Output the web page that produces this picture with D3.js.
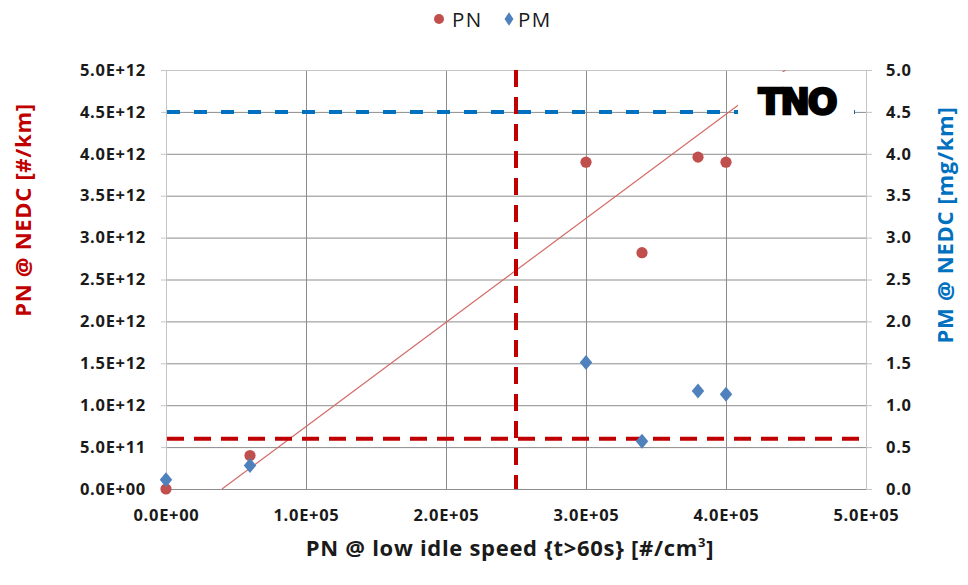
<!DOCTYPE html>
<html><head><meta charset="utf-8">
<script src="https://cdn.jsdelivr.net/npm/d3@7"></script>
<style>body{margin:0;background:#fff}svg{display:block}</style>
</head><body>
<svg id="c" width="968" height="585"></svg>
<script>
// ---- data ----
const idlePN = [0, 60000, 300000, 340000, 380000, 400000];          // #/cm3
const nedcPN = [0, 4.0e11, 3.90e12, 2.82e12, 3.96e12, 3.90e12];     // #/km
const nedcPM = [0.11, 0.28, 1.51, 0.57, 1.17, 1.13];                // mg/km
const trendX = [40000, 442500];
const trendY = [0, 5e12];
const limitPN = 6.0e11;
const limitIdle = 2.5e5;
const limitPM = 4.5;
const xTicks = [0, 1e5, 2e5, 3e5, 4e5, 5e5];
const yLTicks = [0, 0.5e12, 1e12, 1.5e12, 2e12, 2.5e12, 3e12, 3.5e12, 4e12, 4.5e12, 5e12];
const yRTicks = [0, 0.5, 1, 1.5, 2, 2.5, 3, 3.5, 4, 4.5, 5];
const legendItems = ["PN", "PM"];

const svg = d3.select("#c");
const L = 166, R = 866, T = 70, B = 489;
const x = d3.scaleLinear().domain([0, 5e5]).range([L, R]);
const yL = d3.scaleLinear().domain([0, 5e12]).range([B, T]);
const yR = d3.scaleLinear().domain([0, 5]).range([B, T]);
const fmtE = (v) => { const s = v.toExponential(1).toUpperCase(); const [m, e] = s.split("E"); const sign = e[0] === "-" ? "-" : "+"; const n = e.replace(/[+-]/, "").padStart(2, "0"); return m + "E" + sign + n; };
const font = "'Open Sans', sans-serif";
const red = "#c0504d", blue = "#4f81bd";

// gridlines
const g = svg.append("g");
g.selectAll(".hg").data(yLTicks.slice(1, -1)).join("line")
  .attr("x1", L).attr("x2", R).attr("y1", d => yL(d) + 0.5).attr("y2", d => yL(d) + 0.5)
  .attr("stroke", "#8c8c8c").attr("stroke-width", 1);
g.selectAll(".vg").data(xTicks.slice(1, -1)).join("line")
  .attr("y1", T).attr("y2", B).attr("x1", d => x(d) + 0.5).attr("x2", d => x(d) + 0.5)
  .attr("stroke", "#8c8c8c").attr("stroke-width", 1);
g.append("rect").attr("x", L + 0.5).attr("y", T + 0.5).attr("width", R - L).attr("height", B - T)
  .attr("fill", "none").attr("stroke", "#c4c4c4");
g.append("line").attr("x1", L).attr("x2", R).attr("y1", B + 0.5).attr("y2", B + 0.5).attr("stroke", "#8c8c8c");

// axes
const tickStyle = sel => {
  sel.select(".domain").remove();
  sel.selectAll(".tick line").attr("stroke", "#c4c4c4");
  sel.selectAll(".tick text").attr("font-family", font).attr("font-weight", "bold")
    .attr("font-size", 16.5).attr("fill", "#1a1a1a").style("letter-spacing", "0.7px");
};
svg.append("g").attr("transform", `translate(${L},0)`)
  .call(d3.axisLeft(yL).tickValues(yLTicks).tickFormat(d => fmtE(d)).tickSize(5).tickPadding(15))
  .call(tickStyle);
svg.append("g").attr("transform", `translate(${R},0)`)
  .call(d3.axisRight(yR).tickValues(yRTicks).tickFormat(d3.format(".1f")).tickSize(6).tickPadding(14))
  .call(tickStyle);
svg.append("g").attr("transform", `translate(0,${B})`)
  .call(d3.axisBottom(x).tickValues(xTicks).tickFormat(d => fmtE(d)).tickSize(0).tickPadding(20))
  .call(tickStyle);

// trend line
svg.append("clipPath").attr("id", "pc").append("rect").attr("x", L).attr("y", T).attr("width", R - L).attr("height", B - T);
svg.append("path").attr("clip-path", "url(#pc)")
  .datum(trendX.map((v, i) => [v, trendY[i]]))
  .attr("d", d3.line().x(d => x(d[0])).y(d => yL(d[1])))
  .attr("stroke", "#d46a66").attr("stroke-width", 1.2).attr("fill", "none");

// limit lines
svg.append("line").attr("x1", L + 1).attr("x2", R - 3).attr("y1", yL(limitPN)).attr("y2", yL(limitPN))
  .attr("stroke", "#c00000").attr("stroke-width", 4).attr("stroke-dasharray", "17,10");
svg.append("line").attr("x1", x(limitIdle)).attr("x2", x(limitIdle)).attr("y1", T).attr("y2", B)
  .attr("stroke", "#c00000").attr("stroke-width", 4).attr("stroke-dasharray", "17,10");
svg.append("line").attr("x1", L + 1).attr("x2", R - 5).attr("y1", yR(limitPM)).attr("y2", yR(limitPM))
  .attr("stroke", "#0070c0").attr("stroke-width", 4).attr("stroke-dasharray", "13,14");

// logo
svg.append("rect").attr("x", 738).attr("y", 72).attr("width", 116).attr("height", 58).attr("fill", "#fff");
svg.append("text").attr("x", 797).attr("y", 114).attr("text-anchor", "middle")
  .attr("font-family", "'DejaVu Sans', sans-serif").attr("font-weight", "bold").attr("font-size", 35)
  .attr("stroke", "#000").attr("stroke-width", 2.5).style("letter-spacing", "-2px")
  .attr("fill", "#000").text("TNO");

// points
const pts = idlePN.map((v, i) => ({ x: v, pn: nedcPN[i], pm: nedcPM[i] }));
svg.selectAll(".pn").data(pts).join("circle")
  .attr("cx", d => x(d.x)).attr("cy", d => yL(d.pn)).attr("r", 5.6).attr("fill", red);
const diamond = d3.symbol().type(d3.symbolDiamond2).size(110);
svg.selectAll(".pm").data(pts).join("path")
  .attr("transform", d => `translate(${x(d.x)},${yR(d.pm)}) scale(0.95,1.15)`)
  .attr("d", diamond).attr("fill", blue);

// legend
const lg = svg.append("g");
lg.append("circle").attr("cx", 439).attr("cy", 19).attr("r", 5).attr("fill", red);
lg.append("path").attr("transform", "translate(509,19) scale(0.8,1.2)").attr("d", d3.symbol().type(d3.symbolDiamond2).size(80)).attr("fill", blue);
lg.selectAll("text").data(legendItems).join("text")
  .attr("x", (d, i) => i === 0 ? 452 : 518).attr("y", 27)
  .attr("font-family", font).attr("font-size", 20.5).style("letter-spacing", "1.5px")
  .attr("fill", "#1a1a1a").text(d => d);

// axis titles
const titleSize = 22, titleLS = "0.7px";
svg.append("text").attr("transform", "translate(31,210) rotate(-90)").attr("text-anchor", "middle")
  .attr("font-family", font).attr("font-weight", "bold").attr("font-size", titleSize).style("letter-spacing", titleLS)
  .attr("fill", "#c00000").text("PN @ NEDC [#/km]");
svg.append("text").attr("transform", "translate(953,225) rotate(-90)").attr("text-anchor", "middle")
  .attr("font-family", font).attr("font-weight", "bold").attr("font-size", titleSize).style("letter-spacing", titleLS)
  .attr("fill", "#0070c0").text("PM @ NEDC [mg/km]");
const xt = svg.append("text").attr("x", 510).attr("y", 556).attr("text-anchor", "middle")
  .attr("font-family", font).attr("font-weight", "bold").attr("font-size", titleSize).style("letter-spacing", titleLS)
  .attr("fill", "#1a1a1a");
xt.append("tspan").text("PN @ low idle speed {t>60s} [#/cm");
xt.append("tspan").attr("font-size", 13).attr("dy", -9).text("3");
xt.append("tspan").attr("dy", 9).text("]");
</script>
</body></html>
